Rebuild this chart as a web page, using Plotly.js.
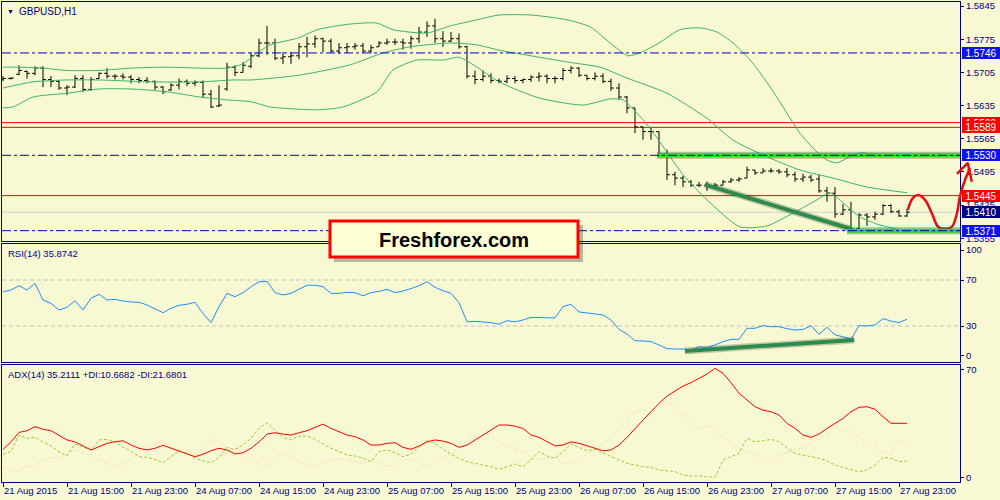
<!DOCTYPE html>
<html><head><meta charset="utf-8">
<script src="https://cdn.plot.ly/plotly-3.0.1.min.js"></script>
<style>html,body{margin:0;padding:0;background:#F8F8D2;overflow:hidden}#chart{width:1000px;height:500px}</style>
</head><body><div id="chart"></div>
<script>
// ---- OHLC (GBPUSD H1) ----
const open  = [1.5690,1.5692,1.5701,1.5707,1.5703,1.5714,1.5690,1.5686,1.5672,1.5674,1.5692,1.5669,1.5692,1.5703,1.5697,1.5697,1.5695,1.5690,1.5688,1.5686,1.5674,1.5668,1.5678,1.5686,1.5682,1.5684,1.5659,1.5634,1.5670,1.5716,1.5705,1.5718,1.5740,1.5767,1.5767,1.5735,1.5738,1.5740,1.5759,1.5765,1.5776,1.5771,1.5750,1.5757,1.5759,1.5761,1.5750,1.5759,1.5767,1.5769,1.5769,1.5767,1.5776,1.5790,1.5803,1.5776,1.5771,1.5776,1.5759,1.5697,1.5690,1.5697,1.5688,1.5686,1.5692,1.5688,1.5690,1.5695,1.5697,1.5692,1.5692,1.5709,1.5714,1.5699,1.5692,1.5697,1.5686,1.5672,1.5653,1.5630,1.5590,1.5580,1.5580,1.5533,1.5489,1.5482,1.5474,1.5467,1.5467,1.5465,1.5467,1.5474,1.5478,1.5482,1.5499,1.5493,1.5497,1.5497,1.5495,1.5489,1.5480,1.5484,1.5480,1.5455,1.5450,1.5406,1.5415,1.5375,1.5404,1.5400,1.5406,1.5424,1.5411,1.5402];
const high  = [1.5697,1.5695,1.5720,1.5709,1.5718,1.5718,1.5697,1.5688,1.5678,1.5699,1.5699,1.5695,1.5705,1.5714,1.5701,1.5703,1.5699,1.5695,1.5695,1.5688,1.5676,1.5682,1.5692,1.5690,1.5688,1.5688,1.5668,1.5678,1.5725,1.5720,1.5727,1.5748,1.5776,1.5803,1.5776,1.5748,1.5748,1.5767,1.5780,1.5783,1.5778,1.5776,1.5767,1.5767,1.5767,1.5767,1.5763,1.5771,1.5776,1.5776,1.5776,1.5782,1.5801,1.5813,1.5818,1.5792,1.5790,1.5787,1.5761,1.5709,1.5709,1.5703,1.5692,1.5699,1.5697,1.5692,1.5699,1.5705,1.5701,1.5697,1.5714,1.5718,1.5716,1.5699,1.5705,1.5703,1.5692,1.5682,1.5655,1.5630,1.5590,1.5588,1.5580,1.5542,1.5495,1.5487,1.5478,1.5474,1.5474,1.5472,1.5478,1.5482,1.5484,1.5506,1.5499,1.5503,1.5503,1.5501,1.5503,1.5495,1.5491,1.5489,1.5489,1.5463,1.5463,1.5427,1.5432,1.5408,1.5408,1.5411,1.5427,1.5427,1.5415,1.5417];
const low   = [1.5686,1.5690,1.5699,1.5692,1.5699,1.5674,1.5674,1.5668,1.5657,1.5672,1.5664,1.5666,1.5692,1.5692,1.5690,1.5690,1.5682,1.5682,1.5682,1.5668,1.5659,1.5666,1.5669,1.5676,1.5676,1.5651,1.5630,1.5632,1.5666,1.5697,1.5705,1.5714,1.5737,1.5742,1.5731,1.5723,1.5723,1.5733,1.5737,1.5757,1.5748,1.5746,1.5744,1.5746,1.5753,1.5746,1.5746,1.5759,1.5763,1.5763,1.5753,1.5755,1.5767,1.5780,1.5767,1.5759,1.5769,1.5755,1.5692,1.5680,1.5686,1.5682,1.5682,1.5682,1.5682,1.5682,1.5685,1.5686,1.5682,1.5682,1.5688,1.5703,1.5695,1.5688,1.5688,1.5682,1.5666,1.5647,1.5619,1.5577,1.5563,1.5563,1.5531,1.5478,1.5467,1.5463,1.5463,1.5463,1.5455,1.5461,1.5467,1.5472,1.5474,1.5482,1.5489,1.5493,1.5493,1.5491,1.5484,1.5474,1.5474,1.5474,1.5451,1.5432,1.5398,1.5404,1.5368,1.5368,1.5381,1.5394,1.5404,1.5408,1.5400,1.5400];
const close = [1.5692,1.5693,1.5709,1.5703,1.5714,1.5690,1.5686,1.5672,1.5674,1.5692,1.5669,1.5690,1.5703,1.5697,1.5697,1.5695,1.5690,1.5688,1.5686,1.5674,1.5664,1.5678,1.5686,1.5682,1.5684,1.5659,1.5632,1.5636,1.5716,1.5705,1.5720,1.5740,1.5767,1.5767,1.5735,1.5738,1.5740,1.5759,1.5765,1.5776,1.5771,1.5750,1.5757,1.5759,1.5761,1.5750,1.5757,1.5767,1.5769,1.5769,1.5767,1.5776,1.5790,1.5803,1.5776,1.5771,1.5776,1.5759,1.5697,1.5690,1.5697,1.5688,1.5686,1.5692,1.5688,1.5690,1.5695,1.5697,1.5692,1.5692,1.5709,1.5714,1.5699,1.5692,1.5697,1.5686,1.5672,1.5653,1.5630,1.5590,1.5580,1.5580,1.5533,1.5489,1.5482,1.5474,1.5467,1.5467,1.5465,1.5467,1.5474,1.5478,1.5480,1.5499,1.5493,1.5497,1.5497,1.5495,1.5489,1.5480,1.5484,1.5478,1.5455,1.5450,1.5406,1.5415,1.5375,1.5404,1.5400,1.5406,1.5424,1.5411,1.5402,1.5410];

// ---- Bollinger bands (read at sample bars) ----
const bbUpperX = [0,2,5,8,12,16,20.5,24.6,28,30,31.5,33.4,37,39.25,43.4,46.75,48.75,53,55.9,59.25,62,66,70.5,73.4,75.9,78.1,79.6,82,84.6,87.1,89.25,91.25,93.4,95.9,98.4,99.6,101.5,103,104.25,105.5,107.1,109.6,113];
const bbUpper  = [1.5716,1.5716,1.5714,1.5709,1.5709,1.5714,1.5716,1.5714,1.5714,1.5723,1.5742,1.5763,1.5778,1.5795,1.5807,1.5809,1.5795,1.5788,1.5803,1.5816,1.5826,1.5826,1.5816,1.5801,1.5767,1.5740,1.5746,1.5767,1.5795,1.5799,1.5790,1.5767,1.5731,1.5674,1.5608,1.5577,1.5541,1.5520,1.5514,1.5524,1.5535,1.5531,1.5531];
const bbMidX   = [0,3.75,8,12,18.4,24.6,28.75,31,37,43.4,47.5,50.9,55.9,59.25,62,70.5,74.6,78,83,88,91.25,95.5,99.6,103.75,108,113];
const bbMid    = [1.5672,1.5685,1.5689,1.5689,1.5685,1.5685,1.5689,1.5689,1.5699,1.5721,1.5746,1.5759,1.5767,1.5763,1.5752,1.5727,1.5716,1.5693,1.5661,1.5608,1.5562,1.5527,1.5499,1.5482,1.5463,1.5451];
const bbLowerX = [0,1.25,3.75,8,12,16,20.5,24.6,28,31,33.4,39.25,42.5,46.75,48.75,51.75,55,57,59.25,62,67,72.5,75.9,77.5,80,81.75,85,88,92.1,95.5,98.75,101.75,103.4,105,107.1,109.6,113];
const bbLower  = [1.5630,1.5632,1.5653,1.5661,1.5670,1.5670,1.5664,1.5653,1.5647,1.5643,1.5632,1.5626,1.5632,1.5664,1.5710,1.5731,1.5731,1.5737,1.5716,1.5685,1.5651,1.5636,1.5649,1.5647,1.5605,1.5567,1.5489,1.5436,1.5379,1.5381,1.5408,1.5436,1.5451,1.5430,1.5400,1.5383,1.5370];

// ---- RSI(14) ----
const rsi = [59.8,61.3,65,61.3,67.1,52.6,49.7,43.9,46.2,52,43.9,54.1,57.6,52.6,53.2,51.7,50.9,50.6,48.3,44.8,41.6,45.4,48,48.9,50.6,41,32.9,46.8,58.4,55.5,59,64.2,68.5,68.8,59,57,58.4,61.9,65.4,65.4,64.2,58.4,58.4,59.3,59,56.3,59,60.1,61.9,59,60.4,62.5,65,68.5,63.6,60.7,58.4,50.3,33.7,34,33.7,32.9,31.6,34.6,33.7,35.2,37.5,37.2,37,37,46.8,48.9,42.2,41.3,40.4,39.6,35.2,27.1,23,17.2,17,16.4,13.5,10.3,10,10,9.1,12,11.4,13.5,16.4,18.4,18.4,28,28,30.3,29.4,29.4,27.7,26.5,27,30.3,22.8,28.9,22.2,20.7,18.4,30.3,30,30.9,36.4,34.3,32.9,35.9];
const rsiLevels = [70, 30];
const rsiTickVals = [96, 70, 30, 4];
const rsiTickText = ['100', '70', '30', '0'];

// ---- ADX(14) ----
const adx = [18.3,23.2,29.3,30.4,33,31.3,30.4,27.6,24.4,23.1,20.5,17.9,20,22.2,23.2,23.9,21.1,19,17.9,19,20.9,19,17.4,15.1,13.5,15.1,17.4,19,17.9,15.3,16.1,19,23.2,28.2,29.1,28.2,27.6,29.1,30.4,32.6,34.7,31.9,29.7,27.6,26.5,24.4,21.1,21.1,22.2,22.6,19.6,18.3,20.5,23.2,24.4,23.7,22.2,19.6,21.1,24.4,27.6,31.3,34.1,34.1,33.4,31.9,27.6,26.1,23.2,20.5,21.1,23.2,22.2,20.5,19,17.4,17.9,21.1,26.1,31.9,37.3,42.7,48.2,52.9,56.4,59.4,61.6,64.4,67.2,70.9,67.7,61.6,54.7,50.3,46,43.8,42.7,40.6,35.2,31.9,27.6,26.1,28.2,31.9,35.2,38.4,42.7,45.6,46,44.3,39.5,35.2,35.2,35.2];
const plusDI = [15.1,16.8,27.6,25.5,26.1,23.2,20.5,16.8,14,21.8,19.6,17.9,24.4,24.8,23.2,19.6,17.4,13.5,13.1,11.8,9.6,13.5,17.4,15.7,12.5,10.9,9.6,13.1,19.6,18.3,21.1,25.5,31.9,35.6,30.8,26.1,24.4,26.9,26.9,24.8,21.8,19,16.8,14.6,14,12.5,10.3,16.8,17.9,16.1,13.5,15.3,19.6,23.9,22.2,18.3,15.3,12.5,10.3,9.2,8.1,7,5.3,7,8.8,7,11.4,16.8,14,12.5,16.8,21.8,19.6,17.4,18.3,16.1,13.5,11.8,9.2,8.1,7,6.6,4.9,4.4,3.8,1.6,1,1,0.5,0.1,11.4,13.5,15.7,25.5,23.2,23.9,24.8,23.2,19.6,15.7,14.6,13.5,12.5,10.9,8.1,6.6,5.3,3.8,4.9,8.1,13.1,12.5,10.3,10.7];
const minusDI = [6,4.9,3.8,7.5,6.6,11.4,13.1,12.5,16.1,17.9,15.7,14.6,11.4,9.2,7.5,9.2,11.8,16.1,19.6,22.2,23.9,19.6,17.9,18.3,14.6,19.6,24.8,23.2,18.3,16.8,14,10.9,8.8,7.5,13.5,15.7,13.5,10.3,8.8,7.5,9.2,11.4,12.5,11.4,10.3,9.2,11.4,9.2,7.5,7.5,11.4,11.8,9.2,7.5,10.3,13.5,14.6,17.9,24.4,26.9,24.8,26.5,23,21,19,16.8,13.5,11.4,12.5,13.5,9.2,8.8,11.4,15.7,17.9,22.2,26.1,31.9,38.4,42.7,44.3,41.7,46,48.6,47.1,41.7,36.2,30.8,34.1,30.8,26.5,22.2,19,16.8,14.6,12.5,9.2,14.6,16.1,17.9,19,22.2,25.5,28.2,33,30.8,29.7,26.5,22.2,19.6,17.4,14.6,23.9,21.7];

// ---- axis labels ----
const timeTickIdx = [0,8,16,24,32,40,48,56,64,72,80,88,96,104,112];
const timeTickText = ['21 Aug 2015','21 Aug 15:00','21 Aug 23:00','24 Aug 07:00','24 Aug 15:00','24 Aug 23:00','25 Aug 07:00','25 Aug 15:00','25 Aug 23:00','26 Aug 07:00','26 Aug 15:00','26 Aug 23:00','27 Aug 07:00','27 Aug 15:00','27 Aug 23:00'];
const priceTicks = [1.5355,1.5425,1.5495,1.5565,1.5635,1.5705,1.5775,1.5845];
const adxTicks = [70, 0];

// ---- drawn levels / annotations ----
const blueLevels = [1.5746, 1.5530, 1.5371];
const redLevels = [1.5599, 1.5589, 1.5445];
const bidLevel = 1.5410;
const greenZoneStart = [81.75, 105.5];
const greenZoneLevel = [1.5530, 1.5371];
const priceTrendX = [87.75, 105.9], priceTrendY = [1.5468, 1.5375];
const rsiTrendX = [85.25, 106.4], rsiTrendY = [8.3, 17.8];
const fcX = [113.1,113.75,114.4,115.25,116.1,116.9,117.75,118.6,119.25,119.6,120.25,120.9];
const fcY = [1.5415,1.5440,1.5446,1.5436,1.5408,1.5379,1.5375,1.5379,1.5408,1.5442,1.5478,1.5503];
const arrowX = [119.25,120.6,121.1], arrowY = [1.5491,1.5514,1.5474];

const bars = close.map((_, i) => i);
const X_RANGE = [-0.125, 119.625];
const NAVY = '#000080';
const BG = '#F8F8D2';
const FONT = 'Liberation Sans, Arial, sans-serif';

const bandStyle = {color:'#3CB371', width:1, shape:'spline', smoothing:0.6};
const traces = [
  {x:bbUpperX, y:bbUpper, type:'scatter', mode:'lines', line:bandStyle, xaxis:'x', yaxis:'y', hoverinfo:'skip'},
  {x:bbMidX, y:bbMid, type:'scatter', mode:'lines', line:bandStyle, xaxis:'x', yaxis:'y', hoverinfo:'skip'},
  {x:bbLowerX, y:bbLower, type:'scatter', mode:'lines', line:bandStyle, xaxis:'x', yaxis:'y', hoverinfo:'skip'},
  {x:bars, open:open, high:high, low:low, close:close, type:'ohlc', xaxis:'x', yaxis:'y', tickwidth:0.36,
   increasing:{line:{color:'#000000', width:1}}, decreasing:{line:{color:'#000000', width:1}}, hoverinfo:'skip'},
  {x:priceTrendX, y:priceTrendY, type:'scatter', mode:'lines', line:{color:'rgba(40,60,40,0.25)', width:7}, xaxis:'x', yaxis:'y', hoverinfo:'skip'},
  {x:priceTrendX, y:priceTrendY, type:'scatter', mode:'lines', line:{color:'#2E8B4F', width:4}, xaxis:'x', yaxis:'y', hoverinfo:'skip'},
  {x:bars, y:rsi, type:'scatter', mode:'lines', line:{color:'#1E90FF', width:1}, xaxis:'x2', yaxis:'y2', hoverinfo:'skip'},
  {x:rsiTrendX, y:rsiTrendY, type:'scatter', mode:'lines', line:{color:'rgba(40,60,40,0.25)', width:7}, xaxis:'x2', yaxis:'y2', hoverinfo:'skip'},
  {x:rsiTrendX, y:rsiTrendY, type:'scatter', mode:'lines', line:{color:'#2E8B4F', width:4}, xaxis:'x2', yaxis:'y2', hoverinfo:'skip'},
  {x:bars, y:minusDI, type:'scatter', mode:'lines', line:{color:'#F2C9A6', width:1, dash:'1px,2px'}, xaxis:'x3', yaxis:'y3', hoverinfo:'skip'},
  {x:bars, y:plusDI, type:'scatter', mode:'lines', line:{color:'#9ACD32', width:1, dash:'3px,2px'}, xaxis:'x3', yaxis:'y3', hoverinfo:'skip'},
  {x:bars, y:adx, type:'scatter', mode:'lines', line:{color:'#FF0000', width:1}, xaxis:'x3', yaxis:'y3', hoverinfo:'skip'},
  {x:fcX, y:fcY, type:'scatter', mode:'lines', line:{color:'#E01010', width:2.5, shape:'spline'}, xaxis:'x4', yaxis:'y', hoverinfo:'skip'},
  {x:arrowX, y:arrowY, type:'scatter', mode:'lines', line:{color:'#E01010', width:2.5}, xaxis:'x4', yaxis:'y', hoverinfo:'skip'}
];

const px = v => v / 1000, py = v => 1 - v / 500;
const shapes = [];
shapes.push({type:'line', xref:'paper', x0:px(2), x1:px(960), yref:'y', y0:bidLevel, y1:bidLevel, line:{color:'#D0D0D0', width:1}, layer:'below'});
redLevels.forEach(l => shapes.push({type:'line', xref:'paper', x0:px(2), x1:px(960), yref:'y', y0:l, y1:l, line:{color:'#FF0000', width:1}, layer:'below'}));
greenZoneStart.forEach((s, i) => {
  shapes.push({type:'line', xref:'x', x0:s, x1:X_RANGE[1], yref:'y', y0:greenZoneLevel[i], y1:greenZoneLevel[i], line:{color:'rgba(30,90,30,0.35)', width:7}, layer:'above'});
  shapes.push({type:'line', xref:'x', x0:s, x1:X_RANGE[1], yref:'y', y0:greenZoneLevel[i], y1:greenZoneLevel[i], line:{color:'#22E022', width:4}, layer:'above'});
});
blueLevels.forEach(l => shapes.push({type:'line', xref:'paper', x0:px(2), x1:px(960), yref:'y', y0:l, y1:l, line:{color:'#0000CD', width:1, dash:'dashdot'}, layer:'above'}));
rsiLevels.forEach(l => shapes.push({type:'line', xref:'paper', x0:px(2), x1:px(960), yref:'y2', y0:l, y1:l, line:{color:'#C0C0C0', width:1, dash:'4px,3px'}, layer:'below'}));
// Freshforex box with shadow
shapes.push({type:'rect', xref:'paper', yref:'paper', x0:px(334), x1:px(583), y0:py(262), y1:py(225), fillcolor:'rgba(60,60,60,0.35)', line:{width:0}, layer:'above'});
shapes.push({type:'rect', xref:'paper', yref:'paper', x0:px(330), x1:px(578), y0:py(257), y1:py(221), fillcolor:'#FFFFD6', line:{color:'#FF0000', width:3}, layer:'above'});

const annotations = [
  {xref:'paper', yref:'paper', x:px(10), y:py(11), text:'▼', showarrow:false, font:{family:FONT, size:7, color:NAVY}, xanchor:'center', yanchor:'middle'},
  {xref:'paper', yref:'paper', x:px(17), y:py(11), text:'GBPUSD,H1', showarrow:false, font:{family:FONT, size:10, color:NAVY}, xanchor:'left', yanchor:'middle'},
  {xref:'paper', yref:'paper', x:px(6), y:py(253), text:'RSI(14) 35.8742', showarrow:false, font:{family:FONT, size:9.5, color:NAVY}, xanchor:'left', yanchor:'middle'},
  {xref:'paper', yref:'paper', x:px(6), y:py(374), text:'ADX(14) 35.2111 +DI:10.6682 -DI:21.6801', showarrow:false, font:{family:FONT, size:9.5, color:NAVY}, xanchor:'left', yanchor:'middle'},
  {xref:'paper', yref:'paper', x:px(454), y:py(240), text:'<b>Freshforex.com</b>', showarrow:false, font:{family:FONT, size:20, color:'#000000'}, xanchor:'center', yanchor:'middle'}
];
const boxLevels = [[blueLevels[0], '#1010F0'], [redLevels[0], '#FF0000'], [redLevels[1], '#FF0000'], [blueLevels[1], '#1010F0'], [redLevels[2], '#FF0000'], [bidLevel, '#000080'], [blueLevels[2], '#1010F0']];
boxLevels.forEach(([lvl, col]) => annotations.push({
  xref:'paper', yref:'y', x:px(962), y:lvl, xanchor:'left', yanchor:'middle', showarrow:false,
  text:lvl.toFixed(4), font:{family:FONT, size:10, color:'#FFFFFF'}, bgcolor:col, bordercolor:col,
  borderwidth:1, borderpad:0, width:36, height:10, align:'center'
}));

const axBase = {showgrid:false, zeroline:false, showline:true, linecolor:NAVY, linewidth:1, mirror:true, fixedrange:true};
const layout = {
  width:1000, height:500, margin:{l:0, r:0, t:0, b:0},
  paper_bgcolor:BG, plot_bgcolor:'rgba(0,0,0,0)', showlegend:false,
  font:{family:FONT, size:9.5, color:NAVY},
  xaxis:Object.assign({}, axBase, {domain:[px(2), px(960)], range:X_RANGE, anchor:'y', showticklabels:false, ticks:'', rangeslider:{visible:false}}),
  xaxis2:Object.assign({}, axBase, {domain:[px(2), px(960)], range:X_RANGE, anchor:'y2', showticklabels:false, ticks:''}),
  xaxis3:Object.assign({}, axBase, {domain:[px(2), px(960)], range:X_RANGE, anchor:'y3', mirror:true,
    tickmode:'array', tickvals:timeTickIdx, ticktext:timeTickText, ticks:'outside', ticklen:4, tickcolor:NAVY,
    tickangle:0, automargin:false, ticklabelposition:'outside right', ticklabelstandoff:0, tickfont:{family:FONT, size:9.5, color:NAVY}}),
  xaxis4:{domain:[px(2), px(990)], range:[-0.125, 123.375], anchor:'y', visible:false, fixedrange:true},
  yaxis:Object.assign({}, axBase, {domain:[py(241), py(2)], range:[1.53492, 1.58535], side:'right', anchor:'x',
    tickmode:'array', tickvals:priceTicks, tickformat:'.4f', ticks:'outside', ticklen:3, tickcolor:NAVY}),
  yaxis2:Object.assign({}, axBase, {domain:[py(362), py(244)], range:[-1.3, 101.3], side:'right', anchor:'x2',
    tickmode:'array', tickvals:rsiTickVals, ticktext:rsiTickText, ticks:'outside', ticklen:3, tickcolor:NAVY}),
  yaxis3:Object.assign({}, axBase, {domain:[py(482), py(364.5)], range:[-2.9, 73.4], side:'right', anchor:'x3',
    tickmode:'array', tickvals:adxTicks, ticks:'outside', ticklen:3, tickcolor:NAVY}),
  shapes:shapes, annotations:annotations
};
Plotly.newPlot('chart', traces, layout, {staticPlot:true, displayModeBar:false});
</script></body></html>
